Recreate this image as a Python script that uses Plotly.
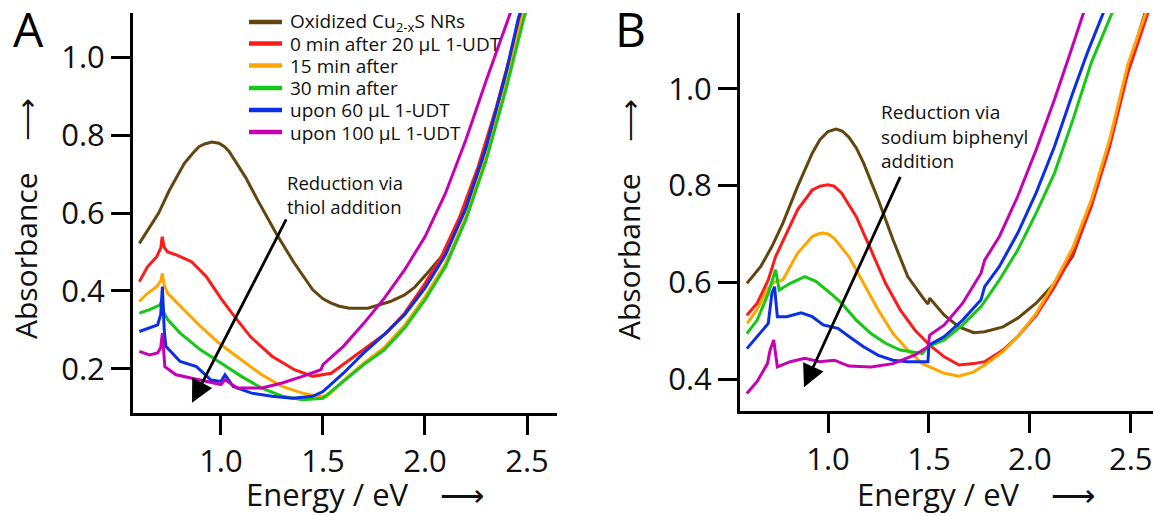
import plotly.graph_objects as go

W, H = 1153, 516

# ---------------- Panel A: thiol (1-UDT) reduction ----------------
a_brown_e = [0.60, 0.64, 0.694, 0.748, 0.82, 0.86, 0.892, 0.92, 0.955, 0.99, 1.018, 1.04, 1.09, 1.12, 1.18,
             1.27, 1.36, 1.45, 1.50, 1.54, 1.58, 1.63, 1.72, 1.77, 1.83, 1.90, 1.95, 2.01, 2.10, 2.20, 2.30,
             2.40, 2.48]
a_brown_a = [0.522, 0.556, 0.599, 0.659, 0.727, 0.752, 0.770, 0.777, 0.782, 0.779, 0.770, 0.758, 0.718, 0.692,
             0.633, 0.548, 0.471, 0.403, 0.380, 0.369, 0.361, 0.356, 0.356, 0.364, 0.373, 0.390, 0.410, 0.445,
             0.500, 0.610, 0.760, 0.950, 1.130]

a_red_e = [0.60, 0.64, 0.685, 0.705, 0.712, 0.722, 0.739, 0.784, 0.856, 0.928, 1.0, 1.054, 1.144, 1.252,
           1.36, 1.45, 1.54, 1.63, 1.72, 1.81, 1.90, 1.99, 2.08, 2.17, 2.26, 2.35, 2.466, 2.49]
a_red_a = [0.424, 0.462, 0.488, 0.510, 0.539, 0.512, 0.500, 0.492, 0.475, 0.437, 0.381, 0.343, 0.283, 0.232,
           0.198, 0.181, 0.189, 0.224, 0.258, 0.292, 0.343, 0.411, 0.488, 0.590, 0.718, 0.872, 1.098, 1.14]

a_orange_e = [0.60, 0.64, 0.685, 0.705, 0.712, 0.722, 0.739, 0.82, 0.90, 1.0, 1.1, 1.2, 1.3, 1.4, 1.47,
              1.52, 1.6, 1.7, 1.8, 1.9, 2.0, 2.1, 2.2, 2.3, 2.4, 2.475, 2.50]
a_orange_a = [0.373, 0.394, 0.411, 0.425, 0.445, 0.415, 0.394, 0.352, 0.309, 0.262, 0.224, 0.185, 0.155, 0.138, 0.131,
              0.130, 0.170, 0.215, 0.255, 0.312, 0.385, 0.470, 0.590, 0.745, 0.935, 1.098, 1.14]

a_green_e = [0.60, 0.65, 0.70, 0.712, 0.72, 0.74, 0.80, 0.90, 1.0, 1.1, 1.2, 1.3, 1.4, 1.5,
             1.6, 1.7, 1.8, 1.9, 2.0, 2.1, 2.2, 2.3, 2.4, 2.484, 2.51]
a_green_a = [0.343, 0.352, 0.364, 0.377, 0.345, 0.326, 0.292, 0.249, 0.215, 0.181, 0.151, 0.130, 0.121, 0.125,
             0.168, 0.211, 0.249, 0.305, 0.377, 0.462, 0.582, 0.735, 0.923, 1.098, 1.14]

a_blue_e = [0.60, 0.65, 0.69, 0.705, 0.713, 0.722, 0.73, 0.80, 0.88, 0.95, 1.0, 1.02, 1.06, 1.15, 1.25,
            1.35, 1.45, 1.5, 1.6, 1.7, 1.8, 1.9, 2.0, 2.1, 2.2, 2.3, 2.4, 2.457, 2.48]
a_blue_a = [0.296, 0.305, 0.313, 0.340, 0.411, 0.300, 0.258, 0.219, 0.206, 0.172, 0.168, 0.185, 0.155, 0.138, 0.130,
            0.125, 0.130, 0.142, 0.189, 0.241, 0.288, 0.339, 0.407, 0.492, 0.612, 0.770, 0.966, 1.098, 1.14]

a_magenta_e = [0.60, 0.65, 0.69, 0.705, 0.713, 0.72, 0.725, 0.78, 0.85, 0.95, 1.0, 1.02, 1.08, 1.2, 1.3,
               1.4, 1.49, 1.5, 1.6, 1.7, 1.8, 1.9, 2.0, 2.1, 2.2, 2.3, 2.41, 2.43]
a_magenta_a = [0.245, 0.236, 0.241, 0.255, 0.292, 0.240, 0.206, 0.185, 0.177, 0.164, 0.160, 0.172, 0.151, 0.151, 0.164,
               0.181, 0.198, 0.211, 0.258, 0.317, 0.381, 0.454, 0.539, 0.650, 0.787, 0.940, 1.098, 1.13]

# ---------------- Panel B: sodium biphenyl reduction ----------------
b_brown_e = [0.598, 0.667, 0.722, 0.776, 0.849, 0.922, 0.96, 1.0, 1.04, 1.07, 1.104, 1.14, 1.176, 1.249, 1.322,
             1.395, 1.467, 1.495, 1.504, 1.576, 1.649, 1.722, 1.776, 1.867, 1.94, 2.031, 2.122, 2.213, 2.304,
             2.395, 2.485, 2.58]
b_brown_a = [0.598, 0.633, 0.674, 0.722, 0.798, 0.867, 0.895, 0.912, 0.917, 0.913, 0.900, 0.878, 0.847, 0.771,
             0.688, 0.612, 0.570, 0.555, 0.567, 0.532, 0.508, 0.496, 0.498, 0.508, 0.526, 0.557, 0.598, 0.655,
             0.760, 0.885, 1.040, 1.17]

b_red_e = [0.598, 0.649, 0.704, 0.74, 0.795, 0.849, 0.922, 0.96, 1.0, 1.03, 1.067, 1.14, 1.213, 1.285, 1.358,
           1.431, 1.504, 1.576, 1.649, 1.722, 1.776, 1.867, 1.94, 2.031, 2.122, 2.213, 2.304, 2.395, 2.485, 2.595]
b_red_a = [0.532, 0.557, 0.605, 0.653, 0.702, 0.750, 0.791, 0.799, 0.802, 0.799, 0.785, 0.736, 0.667, 0.598,
           0.543, 0.501, 0.470, 0.446, 0.429, 0.432, 0.436, 0.460, 0.488, 0.532, 0.591, 0.660, 0.757, 0.881,
           1.033, 1.17]

b_orange_e = [0.60, 0.65, 0.70, 0.73, 0.776, 0.849, 0.922, 0.95, 0.976, 1.0, 1.031, 1.104, 1.176, 1.249, 1.322,
              1.395, 1.467, 1.504, 1.576, 1.649, 1.722, 1.776, 1.867, 1.94, 2.031, 2.122, 2.213, 2.304, 2.395,
              2.485, 2.585]
b_orange_a = [0.515, 0.545, 0.585, 0.600, 0.605, 0.660, 0.695, 0.700, 0.702, 0.700, 0.691, 0.653, 0.598, 0.543,
              0.494, 0.460, 0.432, 0.425, 0.412, 0.406, 0.415, 0.429, 0.457, 0.488, 0.536, 0.600, 0.672, 0.770,
              0.895, 1.050, 1.17]

b_green_e = [0.598, 0.649, 0.704, 0.725, 0.74, 0.758, 0.813, 0.885, 0.94, 1.013, 1.067, 1.14, 1.213, 1.285,
             1.358, 1.467, 1.495, 1.576, 1.667, 1.758, 1.849, 1.94, 2.031, 2.122, 2.213, 2.304, 2.42]
b_green_a = [0.494, 0.522, 0.577, 0.605, 0.626, 0.584, 0.598, 0.612, 0.602, 0.577, 0.557, 0.522, 0.494, 0.474,
             0.460, 0.453, 0.467, 0.481, 0.512, 0.550, 0.605, 0.667, 0.743, 0.826, 0.936, 1.054, 1.17]

b_blue_e = [0.598, 0.649, 0.704, 0.722, 0.735, 0.749, 0.795, 0.867, 0.922, 0.976, 1.049, 1.104, 1.176, 1.249,
            1.322, 1.395, 1.495, 1.50, 1.576, 1.667, 1.758, 1.776, 1.849, 1.94, 2.031, 2.122, 2.213, 2.285, 2.376]
b_blue_a = [0.463, 0.488, 0.515, 0.577, 0.591, 0.529, 0.529, 0.537, 0.529, 0.512, 0.505, 0.488, 0.467, 0.449,
            0.439, 0.436, 0.436, 0.470, 0.488, 0.522, 0.564, 0.591, 0.633, 0.702, 0.785, 0.881, 0.992, 1.075, 1.17]

b_magenta_e = [0.598, 0.649, 0.70, 0.713, 0.731, 0.749, 0.813, 0.885, 0.958, 1.031, 1.104, 1.213, 1.322, 1.431,
               1.495, 1.504, 1.576, 1.667, 1.758, 1.776, 1.849, 1.94, 2.031, 2.122, 2.195, 2.276]
b_magenta_a = [0.370, 0.395, 0.432, 0.460, 0.481, 0.425, 0.436, 0.443, 0.436, 0.439, 0.427, 0.425, 0.432, 0.450,
               0.467, 0.491, 0.512, 0.557, 0.619, 0.646, 0.695, 0.778, 0.874, 0.978, 1.068, 1.17]

series_names = ["Oxidized Cu<sub>2-x</sub>S NRs", "0 min after 20 µL 1-UDT", "15 min after",
                "30 min after", "upon 60 µL 1-UDT", "upon 100 µL 1-UDT"]
series_colors = ["#63450f", "#ff1a1a", "#ffa500", "#14c814", "#0a2fe6", "#c800b4"]
panel_a = [(a_brown_e, a_brown_a), (a_red_e, a_red_a), (a_orange_e, a_orange_a),
           (a_green_e, a_green_a), (a_blue_e, a_blue_a), (a_magenta_e, a_magenta_a)]
panel_b = [(b_brown_e, b_brown_a), (b_red_e, b_red_a), (b_orange_e, b_orange_a),
           (b_green_e, b_green_a), (b_blue_e, b_blue_a), (b_magenta_e, b_magenta_a)]

FONT = "Open Sans"
INK = "#111111"
NB = "\u00a0"


def px(x):
    return x / W


def py(y):
    return 1 - y / H


fig = go.Figure()

for (e, a), name, col in zip(panel_a, series_names, series_colors):
    fig.add_trace(go.Scatter(x=e, y=a, mode="lines", name=name, xaxis="x", yaxis="y",
                             line=dict(color=col, width=3), showlegend=False))

for (e, a), name, col in zip(panel_b, series_names, series_colors):
    fig.add_trace(go.Scatter(x=e, y=a, mode="lines", name=name, xaxis="x2", yaxis="y2",
                             line=dict(color=col, width=3), showlegend=False))

axis_common = dict(showgrid=False, zeroline=False, showline=True, linecolor="black", linewidth=3,
                   ticks="outside", ticklen=19, tickwidth=3, tickcolor="black",
                   tickfont=dict(family=FONT, size=31, color=INK), tickformat=".1f")

fig.update_layout(
    width=W, height=H,
    margin=dict(l=0, r=0, t=0, b=0),
    paper_bgcolor="white", plot_bgcolor="white",
    xaxis=dict(domain=[px(133), px(557)], range=[0.569, 2.647], anchor="y",
               tickvals=[1.0, 1.5, 2.0, 2.5], **axis_common),
    yaxis=dict(domain=[py(413), py(13)], range=[0.087, 1.113], anchor="x",
               tickvals=[0.2, 0.4, 0.6, 0.8, 1.0], **axis_common),
    xaxis2=dict(domain=[px(740), 1.0], range=[0.564, 2.61], anchor="y2",
                tickvals=[1.0, 1.5, 2.0, 2.5], **axis_common),
    yaxis2=dict(domain=[py(411), py(13)], range=[0.334, 1.157], anchor="x2",
                tickvals=[0.4, 0.6, 0.8, 1.0], **axis_common),
    showlegend=False,
)

# compact legend for panel A: colour swatch + label per series
legend_rows = [22, 43.5, 65.5, 88, 110, 132]
shapes = []
annotations = []
for row, name, col in zip(legend_rows, series_names, series_colors):
    shapes.append(dict(type="line", xref="paper", yref="paper", x0=px(249), x1=px(282),
                       y0=py(row), y1=py(row), line=dict(color=col, width=4.5)))
    annotations.append(dict(x=px(288), y=py(row + 0.5), xanchor="left", yanchor="middle", text=name,
                            font=dict(family=FONT, size=19, color=INK)))

y_title = "Absorbance" + NB * 4 + "⟶"
x_title = "Energy" + NB + "/" + NB + "eV" + NB * 4 + "⟶"

annotations += [
    # panel letters
    dict(x=px(28), y=py(-6), yanchor="top", text="A", font=dict(family=FONT, size=48, color="black")),
    dict(x=px(630), y=py(-6), yanchor="top", text="B", font=dict(family=FONT, size=48, color="black")),
    # y-axis titles
    dict(x=px(25), y=py(219), text=y_title, textangle=-90,
         font=dict(family=FONT, size=30, color=INK)),
    dict(x=px(628), y=py(219), text=y_title, textangle=-90,
         font=dict(family=FONT, size=30, color=INK)),
    # x-axis titles
    dict(x=px(365), y=py(517), yanchor="bottom", text=x_title, font=dict(family=FONT, size=31, color=INK)),
    dict(x=px(976), y=py(517), yanchor="bottom", text=x_title, font=dict(family=FONT, size=31, color=INK)),
    # reduction notes
    dict(x=px(285), y=py(168), xanchor="left", yanchor="top", align="left",
         text="Reduction via<br>thiol addition", font=dict(family=FONT, size=18.5, color=INK)),
    dict(x=px(879), y=py(97), xanchor="left", yanchor="top", align="left",
         text="Reduction via<br>sodium biphenyl<br>addition", font=dict(family=FONT, size=19, color=INK)),
    # arrows
    dict(x=0.858, y=0.113, xref="x", yref="y", ax=95, ay=-185, text="", showarrow=True,
         arrowhead=2, arrowwidth=2.8, arrowsize=1.6, arrowcolor="black"),
    dict(x=0.881, y=0.383, xref="x2", yref="y2", ax=97, ay=-212, text="", showarrow=True,
         arrowhead=2, arrowwidth=2.8, arrowsize=1.6, arrowcolor="black"),
]
for ann in annotations:
    ann.setdefault("xref", "paper")
    ann.setdefault("yref", "paper")
    ann.setdefault("xanchor", "center")
    ann.setdefault("yanchor", "middle")
    ann.setdefault("showarrow", False)
    fig.add_annotation(**ann)

fig.update_layout(shapes=shapes)
fig.write_html("out.html")
